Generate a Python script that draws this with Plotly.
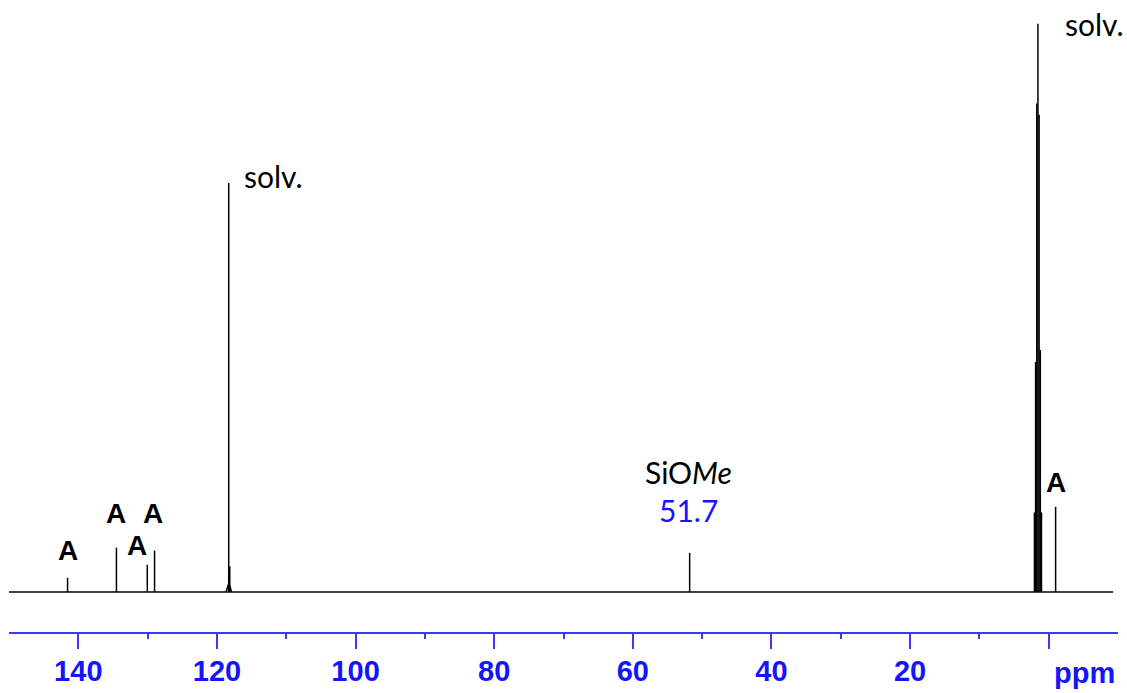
import plotly.graph_objects as go

# ---------------- data ----------------
# spectral window (ppm)
spec_start = 150.0
spec_end = -9.3

# single lines: chemical shift (ppm) and relative intensity
line_ppm = [141.55, 134.5, 130.05, 129.0, 118.3, 118.15, 51.8, -1.0]
line_int = [2.5, 7.8, 4.8, 7.3, 72.0, 4.5, 6.9, 15.0]

# broad foot of the 118 ppm solvent line
foot_ppm = [118.28]
foot_int = [1.6]
foot_halfwidth = [0.4]

# solvent septet (CD3CN methyl)
sept_ppm = [2.06, 1.89, 1.72, 1.55, 1.38, 1.21, 1.04]
sept_int = [14.0, 40.5, 86.0, 100.0, 84.0, 42.6, 14.0]

# axis ticks
major_ticks = [140, 120, 100, 80, 60, 40, 20, 0]
major_text = ["140", "120", "100", "80", "60", "40", "20", ""]
minor_ticks = [130, 110, 90, 70, 50, 30, 10]

# labels
label_A = "A"
label_solv = "solv."
label_sio = "SiO<i>Me</i>"
label_shift = "51.7"
label_unit = "ppm"

# ---------------- build traces ----------------
BLUE = "#1414ff"
LINEBLUE = "#3a3aff"

xs, ys = [], []
for p, h in zip(line_ppm + sept_ppm, line_int + sept_int):
    xs += [p, p, None]
    ys += [0, h, None]
for p, h, w in zip(foot_ppm, foot_int, foot_halfwidth):
    xs += [p + w, p, p - w, None]
    ys += [0, h, 0, None]

fig = go.Figure()
fig.add_trace(go.Scatter(x=[spec_start, spec_end], y=[0, 0], mode="lines",
                         line=dict(color="black", width=1.6), hoverinfo="skip"))
fig.add_trace(go.Scatter(x=xs, y=ys, mode="lines", connectgaps=False,
                         line=dict(color="black", width=1.5), hoverinfo="skip"))

fig.update_layout(
    width=1127, height=693,
    margin=dict(l=9, r=9, t=0, b=61),
    paper_bgcolor="white", plot_bgcolor="white",
    showlegend=False,
    xaxis=dict(
        range=[150, -10], showgrid=False, zeroline=False,
        showline=True, linecolor=LINEBLUE, linewidth=1.5,
        ticks="outside", ticklen=15, tickwidth=1.6, tickcolor=LINEBLUE,
        tickvals=major_ticks, ticktext=major_text, ticklabelstandoff=-3,
        tickfont=dict(family="Liberation Sans", size=29, color=BLUE, weight="bold"),
        minor=dict(tickvals=minor_ticks, ticks="outside", ticklen=5,
                   tickwidth=1.6, tickcolor=LINEBLUE, showgrid=False),
    ),
    yaxis=dict(range=[-7.04, 104.2], visible=False, showgrid=False, zeroline=False),
)

fontA = dict(family="Liberation Sans", size=28, color="black", weight="bold")
fontT = dict(family="Lato", size=30, color="black")

annots = []
# "A" labels: (peak index, xshift, yshift)
for i, dx, dy in [(0, 0, 27), (1, 0, 34), (2, -10, 19), (3, -2, 37), (7, 0, 24)]:
    annots.append(dict(x=line_ppm[i], y=line_int[i], text=label_A, font=fontA,
                       showarrow=False, xanchor="center", yanchor="middle",
                       xshift=dx, yshift=dy))
# solvent labels
annots.append(dict(x=line_ppm[4], y=line_int[4], text=label_solv, font=fontT,
                   showarrow=False, xanchor="left", yanchor="middle",
                   xshift=13, yshift=7))
annots.append(dict(x=sept_ppm[3], y=sept_int[3], text=label_solv, font=fontT,
                   showarrow=False, xanchor="left", yanchor="middle",
                   xshift=25, yshift=0))
# SiOMe
annots.append(dict(x=line_ppm[6], y=line_int[6], text=label_sio, font=fontT,
                   showarrow=False, xanchor="center", yanchor="middle",
                   xshift=-1, yshift=81))
annots.append(dict(x=line_ppm[6], y=line_int[6], text=label_shift,
                   font=dict(family="Lato", size=30, color=BLUE),
                   showarrow=False, xanchor="center", yanchor="middle",
                   xshift=-1, yshift=43))
# ppm unit label
annots.append(dict(x=-5.15, xref="x", y=0, yref="paper", text=label_unit,
                   font=dict(family="Liberation Sans", size=29, color=BLUE, weight="bold"),
                   showarrow=False, xanchor="center", yanchor="top", yshift=-23))
fig.update_layout(annotations=annots)

fig.write_html("out.html")
